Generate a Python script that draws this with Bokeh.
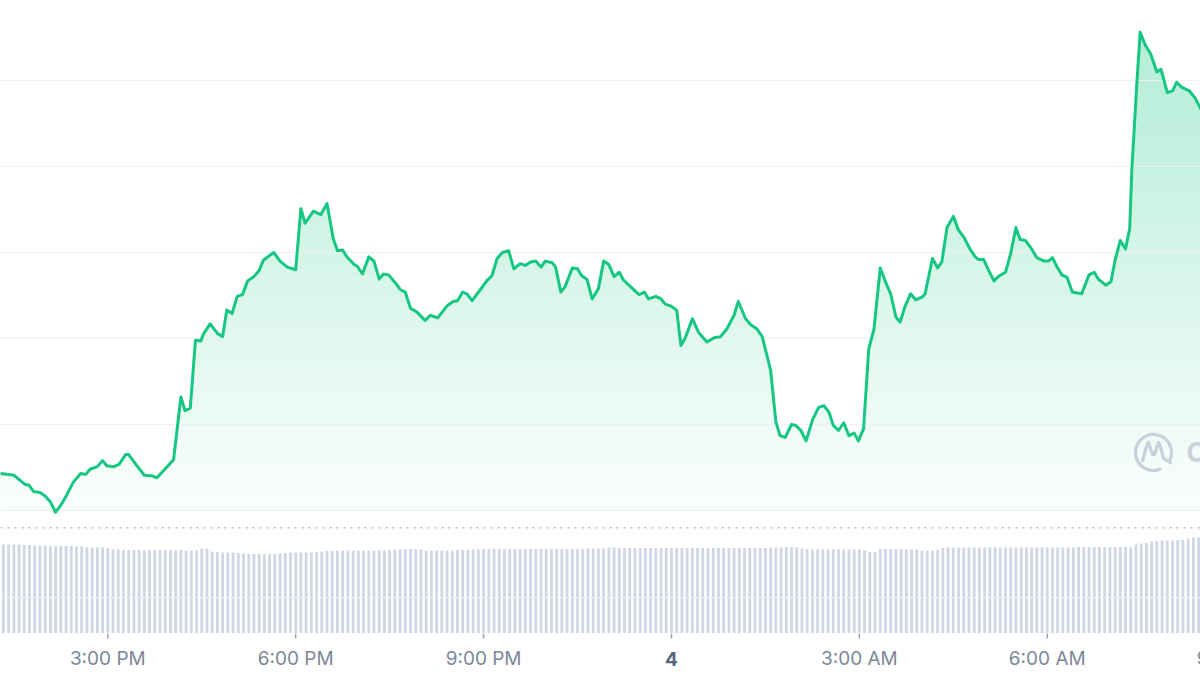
import numpy as np
from bokeh.plotting import figure
from bokeh.layouts import column
from bokeh.models import Range1d, Label, Span, ColumnDataSource
from bokeh.core.properties import value
from bokeh.embed import file_html
from bokeh.resources import INLINE

# ---------------- data ----------------
# price series: minutes after 13:00 on day 3, price in arbitrary units
price_minutes = [
    17, 30, 36, 41, 44, 49, 55, 60, 65, 70, 76, 81, 87, 94, 99, 103, 110, 115, 119, 126,
    131, 137, 140, 148, 155, 163, 167, 174, 183, 190, 194, 199,
    204, 209, 212, 218, 225, 230, 234, 239, 244, 249, 254, 260, 265, 269, 279, 285, 292, 300,
    305, 309, 317, 324, 330, 336, 340, 345,
    349, 356, 359, 364, 370, 375, 380, 384, 389, 396, 400, 405, 410, 416, 424, 429, 436, 445,
    451, 455, 460, 464, 469, 477, 483, 488, 493, 498, 504, 509, 515, 520, 525, 530, 535, 539,
    546, 549,
    554, 558, 565, 570, 574, 579, 584, 590, 595, 600, 605, 610, 614, 621, 629, 634, 638, 645,
    650, 654, 659, 665, 669, 673, 680, 686, 694, 701, 707, 713, 720, 724, 731, 736, 742, 747,
    755, 760, 764, 769, 775, 779, 784, 789, 795, 801, 806, 811, 815, 820, 825, 830, 835, 839,
    844, 849, 854, 860, 865, 870, 875, 879, 884,
    889, 894, 900, 903, 910, 915, 919, 924, 930, 935, 940, 946, 951, 954, 959, 964, 969, 974,
    980, 985, 990, 994, 999, 1004, 1010, 1017, 1021, 1025, 1029,
    1034, 1039, 1044, 1049, 1053, 1060, 1065, 1069, 1076, 1081, 1085, 1090, 1095, 1099, 1101,
    1106, 1109, 1114, 1119, 1125, 1129, 1135, 1140, 1144, 1149, 1156, 1162, 1167,
]
price_values = [
    104.3, 104.1, 103.5, 103.0, 103.0, 102.2, 102.1, 101.7, 101.0, 99.8, 100.8, 101.9, 103.3,
    104.3, 104.2, 104.8, 105.1, 105.8, 105.2, 105.1, 105.4, 106.5, 106.5, 105.2, 104.1, 104.0,
    103.8, 104.7, 105.9, 113.2, 111.6, 111.9,
    119.8, 119.7, 120.6, 121.7, 120.6, 120.2, 123.3, 122.9, 124.9, 125.1, 126.7, 127.2, 127.9,
    129.1, 130.0, 129.0, 128.3, 128.0, 135.1, 133.4, 134.8, 134.4, 135.7, 131.6, 130.2, 130.3,
    129.5, 128.6, 128.4, 127.5, 129.5, 129.0, 126.9, 127.5, 127.4, 126.4, 125.7, 125.4, 123.5,
    123.1, 122.1, 122.7, 122.4, 123.8, 124.3, 124.4, 125.4, 125.2, 124.4, 125.7, 126.7, 127.3,
    129.3, 130.0, 130.2, 128.1, 128.7, 128.5, 128.9, 129.0, 128.3, 129.0, 128.8, 128.3,
    125.4, 126.0, 128.2, 128.1, 127.3, 126.9, 124.6, 125.8, 129.0, 128.6, 127.2, 127.7, 126.8,
    126.0, 125.1, 125.4, 124.6, 124.9, 124.6, 124.0, 123.8, 123.3, 119.2, 120.0, 122.3, 120.7,
    119.6, 120.1, 120.2, 121.1, 122.7, 124.3, 122.3, 121.6, 121.1, 120.2,
    116.3, 110.3, 108.7, 108.5, 110.0, 109.9, 109.3, 108.1, 110.5, 112.0, 112.2, 111.4, 109.9,
    109.3, 110.2, 108.7, 109.0, 108.1, 109.5, 118.8, 121.1, 128.2, 126.6, 125.2, 122.5, 121.9,
    123.8,
    125.2, 124.5, 124.8, 125.2, 129.3, 128.2, 128.9, 132.9, 134.2, 132.6, 131.8, 130.4, 129.5,
    129.2, 129.2, 127.9, 126.7, 127.3, 127.7, 129.9, 132.9, 131.5, 131.4, 130.6, 129.4, 129.0,
    129.0, 129.4, 128.4,
    127.4, 127.1, 125.4, 125.3, 125.2, 127.4, 127.7, 126.9, 126.2, 126.6, 129.1, 131.4, 130.4,
    132.8, 139.5, 150.0, 155.6, 154.1, 153.1, 151.0, 151.3, 148.6, 148.8, 149.8, 149.2, 148.8,
    147.9, 146.7,
]

# volume: one bar every 5 minutes starting 13:20
volume_first_minute = 20
volume_step_minutes = 5
volume_values = [
    89, 89, 89, 89, 88.5, 88.5,
    88, 88, 88, 87.5, 87.5, 87.5, 87.5, 87.5, 87, 87,
    86, 86, 86, 86, 85.5,
    84, 84, 83.5, 83.5, 83.5, 83.5, 83.5, 83.5, 83.5, 83.5, 83.5, 83.5, 83.5, 83.5, 83, 83, 83,
    85, 85,
    82, 81.5, 81, 81, 81, 80.5,
    80, 79.5, 79.5, 79.5, 79.5, 79.5, 79.5, 80,
    80.5, 81, 81, 81, 81, 81, 81.5,
    82, 82.5, 82.5, 83, 83, 83, 83, 83, 83, 83, 83, 83, 83, 83.5, 84, 84,
    84.5, 84.5, 84.5, 84,
    83, 83, 83, 83, 83, 83, 83.5, 83.5, 83.5, 84, 84,
    84.5, 84.5, 84.5, 84.5, 84.5, 84.5, 84.5, 84.5, 84.5, 84.5, 84.5, 84.5,
    84.5, 84.5, 84.5, 84.5, 84.5, 84.5, 84.5, 84.5, 85, 85, 85, 85,
    86, 86, 85.5, 85.5, 85.5, 85.5, 85.5, 85.5, 85.5, 85.5, 85.5, 85.5, 85.5, 85.5, 85.5, 85.5,
    85.5, 85.5, 85.5, 85.5, 85.5, 85.5, 85.5, 85.5, 85.5, 85.5, 85.5, 85.5, 85.5, 85.5, 85.5,
    86, 86, 86, 86.5, 86.5, 86,
    85, 84.5, 84, 84, 84, 84, 84, 84, 84, 84, 84, 84, 83.5,
    81.5, 81.5,
    84.5, 84.5, 84.5, 84.5, 84.5, 84.5, 84, 84,
    83, 83, 83, 83.5,
    85.5, 86, 86, 86, 86, 86, 86, 86, 86, 86, 86, 86, 86, 86, 86, 86,
    86, 86, 86, 86, 86, 86, 86, 86, 86, 86, 86.5, 86.5, 86.5, 86.5, 86.5, 86.5, 86.5, 86.5,
    86.5, 86.5, 86.5,
    89, 90, 90.5,
    92, 92.5, 93, 93, 93, 93.5, 94,
    95, 96, 96,
]

tick_hours = [15, 18, 21, 24, 27, 30, 33]
tick_labels = ["3:00 PM", "6:00 PM", "9:00 PM", "4", "3:00 AM", "6:00 AM", "9:00 AM"]
grid_prices = [100, 110, 120, 130, 140, 150]
fill_baseline = 99.65
open_marker_price = 98.0
volume_grid_value = 36

# ---------------- layout ----------------
FRAME_W, FRAME_H = 1200, 633
AXIS_H = 42
x_start, x_end = 13.28676, 32.4469
y_start, y_end = 85.698, 159.302
px_per_hour = FRAME_W / (x_end - x_start)
px_per_unit = FRAME_H / (y_end - y_start)

price_hours = [13 + m / 60 for m in price_minutes]
vol_hours = [13 + (volume_first_minute + i * volume_step_minutes) / 60
             for i in range(len(volume_values))]

LINE_GREEN = "#16c784"
GREY_TXT = "#7d8799"
WATERMARK = "#c9cfdb"


def hx(px):
    return x_start + px / px_per_hour


def py(px):
    return y_end - px / px_per_unit


p = figure(frame_width=FRAME_W, frame_height=FRAME_H,
           x_range=Range1d(x_start, x_end), y_range=Range1d(y_start, y_end),
           output_backend="svg", toolbar_location=None,
           min_border=0, x_axis_location=None, y_axis_location=None,
           background_fill_color="white", border_fill_color="white",
           outline_line_color=None)
p.grid.visible = False
p.extra_y_ranges = {"vol": Range1d(0, FRAME_H)}

# volume bars
p.vbar(x=vol_hours, top=volume_values, bottom=0, width=2.8 / px_per_hour,
       y_range_name="vol", fill_color="#d0d6e5", line_color=None)
p.add_layout(Span(location=volume_grid_value, dimension="width", y_range_name="vol",
                  line_color="#eef1f6", line_width=1))

# gradient under the line: vertical gradient image, then white above the line
grad_top = max(price_values) + 1.0
rows_n = int(round((grad_top - fill_baseline) * px_per_unit))
row_price = fill_baseline + (np.arange(rows_n) + 0.5) / px_per_unit
alpha = np.clip(0.019 + (row_price - 100) * 0.0055, 0.012, 0.34)
img = np.empty((rows_n, 1), dtype=np.uint32)
view = img.view(dtype=np.uint8).reshape((rows_n, 1, 4))
view[:, 0, 0] = np.round(255 - 233 * alpha).astype(np.uint8)
view[:, 0, 1] = np.round(255 - 56 * alpha).astype(np.uint8)
view[:, 0, 2] = np.round(255 - 123 * alpha).astype(np.uint8)
view[:, 0, 3] = 255
img_left = hx(1.0)
p.image_rgba(image=[img], x=img_left, y=fill_baseline, dw=x_end - img_left,
             dh=rows_n / px_per_unit)
p.varea(x=price_hours, y1=price_values, y2=y_end + 5, fill_color="white")

# horizontal price gridlines
p.segment(x0=[x_start] * len(grid_prices), x1=[x_end] * len(grid_prices),
          y0=grid_prices, y1=grid_prices, line_color="#edf0f4", line_width=1.2)

# dotted reference line
p.add_layout(Span(location=open_marker_price, dimension="width",
                  line_color="#b4bbc8", line_width=1.5, line_dash="2 5"))

# watermark (logo ring + m stroke + wordmark)
cx, cy = 1153, 452
p.arc(x=[hx(cx)], y=[py(cy)], radius=18, radius_units="screen",
      start_angle=np.deg2rad(-26), end_angle=np.deg2rad(295),
      line_color=WATERMARK, line_width=3.2)
m_dx = [-11, -7, -5, -1, 1, 5, 7, 10, 17]
m_dy = [-8, 6, 10, -2, -2, 10, 6, -6, -10]
p.line(x=[hx(cx + d) for d in m_dx], y=[py(cy - d) for d in m_dy],
       line_color=WATERMARK, line_width=3.2, line_join="round", line_cap="round")
p.add_layout(Label(x=hx(1186), y=py(452), text="CoinMarketCap", text_baseline="middle",
                   text_font="Inter", text_font_size="27px", text_font_style="bold",
                   text_color=WATERMARK))

# price line
p.line(price_hours, price_values, line_color=LINE_GREEN, line_width=3,
       line_join="round", line_cap="round")

# ---------------- time axis strip ----------------
pa = figure(frame_width=FRAME_W, frame_height=AXIS_H, x_range=p.x_range,
            y_range=Range1d(0, AXIS_H), output_backend="svg", toolbar_location=None,
            min_border=0, x_axis_location=None, y_axis_location=None,
            background_fill_color="white", border_fill_color="white",
            outline_line_color=None)
pa.grid.visible = False
pa.segment(x0=tick_hours, x1=tick_hours, y0=AXIS_H, y1=AXIS_H - 5,
           line_color="#9aa2b1", line_width=1.5)
is_day = [":" not in t for t in tick_labels]
lab_src = ColumnDataSource(dict(
    x=tick_hours, text=tick_labels,
    style=["bold" if d else "normal" for d in is_day],
    color=["#58667e" if d else GREY_TXT for d in is_day],
))
pa.text(x="x", y=17, text="text", source=lab_src, text_align="center",
        text_baseline="alphabetic", text_font=value("Inter"), text_font_size="19px",
        text_font_style="style", text_color="color")

layout = column(p, pa, spacing=0)
open("out.html", "w").write(file_html(layout, INLINE))
